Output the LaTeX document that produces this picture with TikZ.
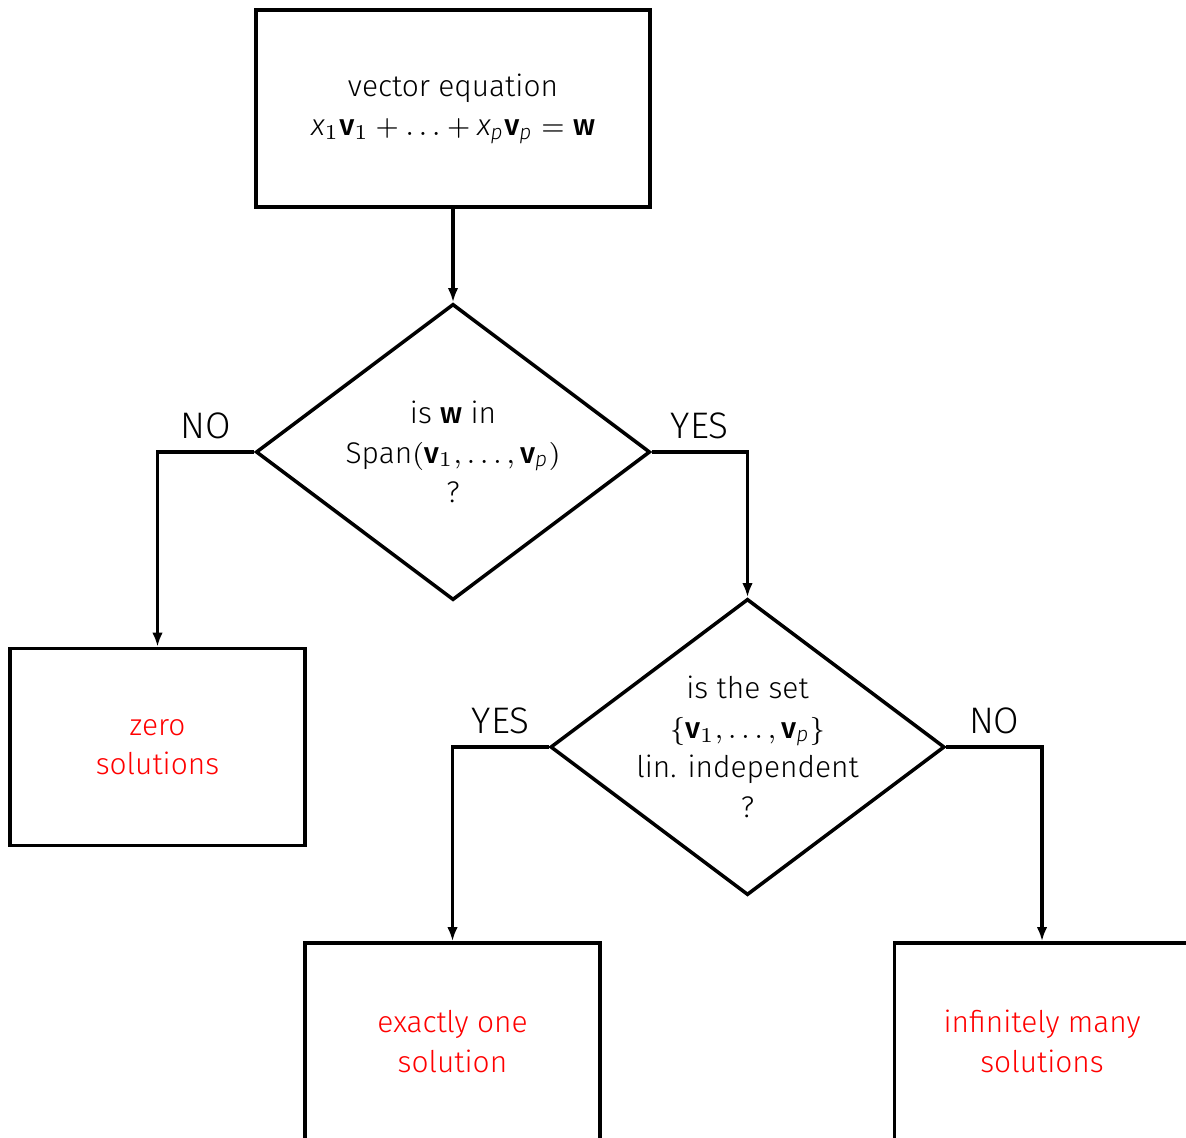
\documentclass[tikz,border=0pt]{standalone}
\usepackage{amsmath}
\usepackage{fontspec}
\setmainfont{Fira Sans}[UprightFont=* Light, ItalicFont=* Light Italic, BoldFont=* Medium]
\usetikzlibrary{shapes.geometric,arrows.meta}

\tikzset{
  block/.style={draw, line width=1pt, minimum width=3.94cm, minimum height=1.97cm, align=center},
  result/.style={block, minimum width=2.95cm, text=red},
  decision/.style={draw, diamond, line width=1pt, minimum width=3.94cm, minimum height=2.96cm, inner sep=0pt},
  arr/.style={-{Latex[length=4pt,width=3pt]}, line width=1pt},
  lbl/.style={above, font=\fontsize{10.5}{12}\selectfont}
}
\newcommand{\vb}[1]{\mathbf{#1}}

\begin{document}
\begin{tikzpicture}[x=0.01cm,y=-0.01cm, font=\fontsize{8.5}{11.24}\selectfont]
\useasboundingbox (0,0) rectangle (1186,1137);

\node[block] (eq) at (453,108.5) {vector equation\\$\mathit{x}_1\vb{v}_1+\ldots+\mathit{x}_{\mathit{p}}\vb{v}_{\mathit{p}}=\vb{w}$};

\node[decision] (span) at (453,452) {};
\node[align=center] (spantxt) at (span) {is $\vb{w}$ in\\Span$(\vb{v}_1,\ldots,\vb{v}_{\mathit{p}})$\\?};

\node[result] (zero) at (157.5,747) {zero\\solutions};

\node[decision] (indep) at (747.5,747) {};
\node[align=center] (indeptxt) at (indep) {is the set\\$\{\vb{v}_1,\ldots,\vb{v}_{\mathit{p}}\}$\\lin. independent\\?};

\node[result] (one) at (452.5,1041.5) {exactly one\\solution};
\node[result] (many) at (1042,1041.5) {infinitely many\\solutions};

\draw[arr] (eq) -- (span);
\draw[arr] (span.west) -| (zero.north) node[lbl,pos=0.25] {NO};
\draw[arr] (span.east) -| (indep.north) node[lbl,pos=0.25] {YES};
\draw[arr] (indep.west) -| (one.north) node[lbl,pos=0.25] {YES};
\draw[arr] (indep.east) -| (many.north) node[lbl,pos=0.25] {NO};
\end{tikzpicture}
\end{document}
